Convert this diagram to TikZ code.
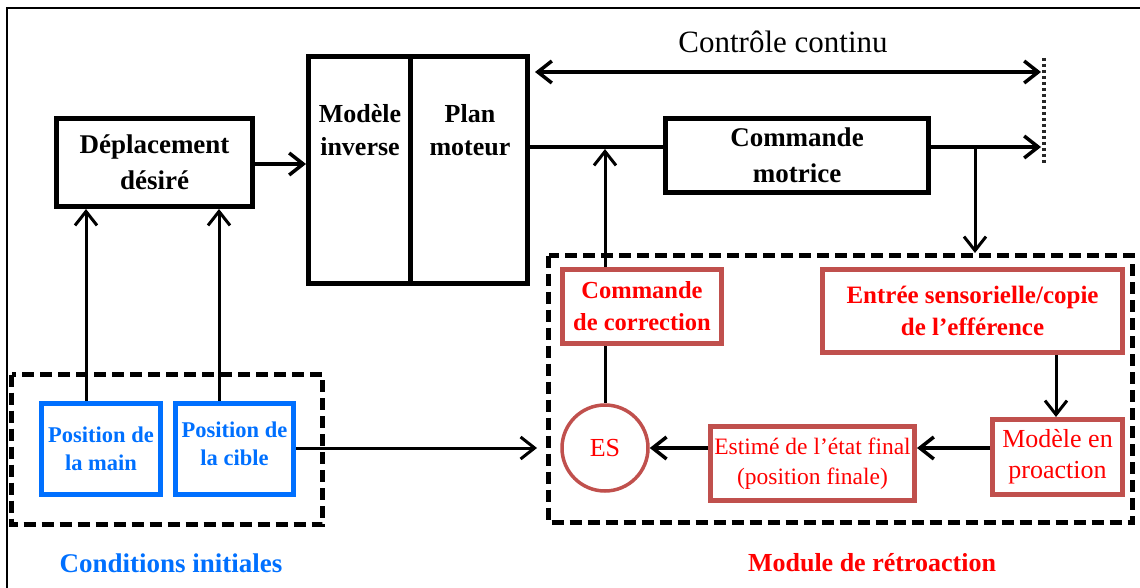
\documentclass[tikz,border=0pt]{standalone}
\usepackage{fontspec}
\setmainfont{Liberation Serif}
\usetikzlibrary{arrows.meta}
\definecolor{boxred}{RGB}{192,80,77}
\definecolor{txtred}{RGB}{255,0,0}
\definecolor{pblue}{RGB}{0,112,255}
\begin{document}
\begin{tikzpicture}[x=1pt,y=-1pt,
  blackbox/.style={draw=black,line width=5pt,rectangle,inner sep=0pt,align=center,
    font=\fontsize{27}{36}\selectfont\bfseries},
  redbox/.style={draw=boxred,line width=5pt,rectangle,inner sep=0pt,align=center,text=txtred},
  bluebox/.style={draw=pblue,line width=5pt,rectangle,inner sep=0pt,align=center,text=pblue,
    font=\fontsize{22.5}{28.5}\selectfont\bfseries},
  dashbox/.style={draw=black,line width=5pt,dash pattern=on 12pt off 6pt},
  conn/.style={line width=3.5pt},
  thinconn/.style={line width=3pt},
  arr/.style={-{Straight Barb[length=14pt,width=22pt]}},
  darr/.style={{Straight Barb[length=14pt,width=22pt]}-{Straight Barb[length=14pt,width=22pt]}},
  plain/.style={inner sep=0pt,align=center}
]
\useasboundingbox (0,0) rectangle (1140,588);
% outer frame
\draw[line width=1.5pt] (7,588) -- (7,8) -- (1140,8);

% top blocks
\node[blackbox,minimum width=196pt,minimum height=88pt] (depl) at (154.5,162.5) {Déplacement\\désiré};
\node[blackbox,minimum width=101.5pt,minimum height=227pt] (mi) at (359.25,170) {};
\node[blackbox,minimum width=117.5pt,minimum height=227pt] (pm) at (468.75,170) {};
\node[plain,font=\fontsize{26}{33}\selectfont\bfseries] (mitxt) at (360,130) {Modèle\\inverse};
\node[plain,font=\fontsize{26}{33}\selectfont\bfseries] (pmtxt) at (470,130) {Plan\\moteur};
\node[blackbox,minimum width=263pt,minimum height=74pt] (cmd) at (797,155.5) {Commande\\motrice};
\node[plain,font=\fontsize{31}{36}\selectfont] (cc) at (783,42) {Contrôle continu};

% dotted end line
\coordinate (dtop) at (1044,58);
\coordinate (dbot) at (1044,163);
\draw[line width=3.5pt,dash pattern=on 3pt off 3pt,black!85] (dtop) -- (dbot);
\coordinate (lvl) at (0,147);
\coordinate (dbl) at (0,72);

% dashed groups
\draw[dashbox] (11.5,374.5) rectangle (322.5,524.5);
\draw[dashbox] (548.5,255.5) rectangle (1132.5,522.5);
\coordinate (modw) at (546,448);
\coordinate (modn) at (975,253);

% blue boxes
\node[bluebox,minimum width=119pt,minimum height=91pt] (pmain) at (101,449) {Position de\\la main};
\node[bluebox,minimum width=118pt,minimum height=91pt] (pcible) at (234.5,449) {};
\node[plain,text=pblue,font=\fontsize{22.5}{28.5}\selectfont\bfseries] (pctxt) at (234.5,444) {Position de\\la cible};

% red boxes
\node[redbox,minimum width=159pt,minimum height=74pt,font=\fontsize{24.5}{32}\selectfont\bfseries] (corr) at (642,306.5) {Commande\\de correction};
\node[redbox,minimum width=300pt,minimum height=83pt,font=\fontsize{25}{32}\selectfont\bfseries] (entree) at (972.5,311) {Entrée sensorielle/copie\\de l’efférence};
\node[redbox,minimum width=130pt,minimum height=75pt,font=\fontsize{26}{31}\selectfont] (proac) at (1057.5,457) {Modèle en\\proaction};
\node[redbox,minimum width=204pt,minimum height=74pt,font=\fontsize{23.5}{30}\selectfont] (estim) at (812.5,463.5) {Estimé de l’état final\\(position finale)};
\node[draw=boxred,line width=3.5pt,circle,minimum size=86pt,inner sep=0pt,text=txtred,
  font=\fontsize{26}{30}\selectfont] (es) at (605,448) {ES};

% labels
\node[plain,text=pblue,font=\fontsize{27}{32}\selectfont\bfseries] (lblci) at (171,563) {Conditions initiales};
\node[plain,text=txtred,font=\fontsize{26}{32}\selectfont\bfseries] (lblmod) at (872,563) {Module de rétroaction};

% connectors
\draw[conn,arr] (depl.east |- 0,164) -- (mi.west |- 0,164);
\draw[conn] (pm.east |- lvl) -- (cmd.west |- lvl);
\draw[conn,arr] (cmd.east |- lvl) -- ([xshift=-3pt]dtop |- lvl);
\draw[conn,darr] ([xshift=5pt]pm.east |- dbl) -- ([xshift=-3pt]dtop |- dbl);
\draw[thinconn,arr] (975,147) -- (modn);
\draw[thinconn,arr] (es.north |- corr.north) -- (es.north |- 0,149);
\draw[thinconn] (es.north |- corr.south) -- (es.north);
\draw[thinconn,arr] ([xshift=-15pt]pmain.north) -- ([xshift=-15pt]pmain.north |- depl.south);
\draw[thinconn,arr] ([xshift=-15.5pt]pcible.north) -- ([xshift=-15.5pt]pcible.north |- depl.south);
\draw[thinconn,arr] (pcible.east |- modw) -- ([xshift=-9pt]modw);
\draw[thinconn,arr] ([xshift=83.5pt]entree.south) -- ([xshift=-1.5pt]proac.north);
\draw[conn,arr] (proac.west |- es) -- (estim.east |- es);
\draw[conn,arr] (estim.west |- es) -- (es.east);
\end{tikzpicture}
\end{document}
